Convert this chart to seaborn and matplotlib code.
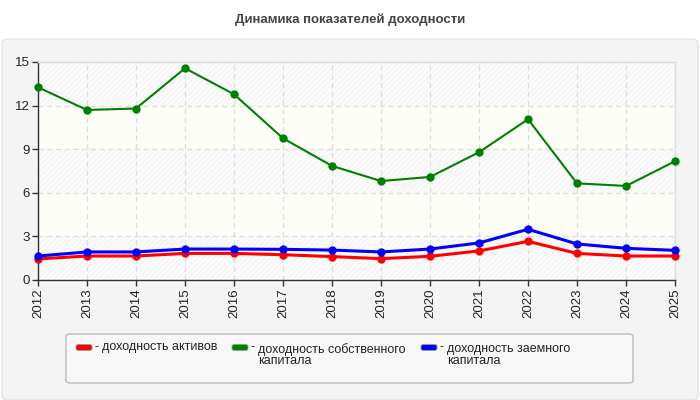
import matplotlib
matplotlib.use("Agg")
import matplotlib.pyplot as plt
from matplotlib.patches import FancyBboxPatch
import seaborn as sns
import pandas as pd

years = [2012, 2013, 2014, 2015, 2016, 2017, 2018, 2019, 2020, 2021, 2022, 2023, 2024, 2025]
roa = [1.45, 1.65, 1.65, 1.83, 1.83, 1.74, 1.61, 1.47, 1.63, 2.00, 2.66, 1.83, 1.65, 1.65]
roe = [13.26, 11.70, 11.80, 14.57, 12.78, 9.75, 7.85, 6.81, 7.09, 8.79, 11.06, 6.65, 6.47, 8.17]
rod = [1.65, 1.93, 1.93, 2.13, 2.13, 2.11, 2.06, 1.93, 2.13, 2.55, 3.49, 2.48, 2.18, 2.04]
series_names = ["доходность активов", "доходность собственного\nкапитала", "доходность заемного\nкапитала"]
colors = ["#ff0000", "#008000", "#0000ff"]
title = "Динамика показателей доходности"
yticks = [0, 3, 6, 9, 12, 15]

sns.set_theme(style="white")
plt.rcParams['font.family'] = ['Liberation Sans', 'DejaVu Sans']
plt.rcParams['hatch.linewidth'] = 0.5

rows = []
for name, vals in zip(series_names, [roa, roe, rod]):
    for y, v in zip(years, vals):
        rows.append({"year": y, "value": v, "series": name})
df = pd.DataFrame(rows)

fig = plt.figure(figsize=(7, 4), dpi=100)
fig.patch.set_facecolor("white")
W, H = 700, 400

# gray panel
panel = FancyBboxPatch((2 / W, 0.0), 696 / W, 361 / H, boxstyle="round,pad=0,rounding_size=0.01",
                       transform=fig.transFigure, facecolor="#f4f4f4", edgecolor="#e4e4e4", lw=1, zorder=-10)
fig.patches.append(panel)
fig.text(0.5, 1 - 20 / H, title, ha="center", va="center", fontsize=9.5, fontweight="bold", color="#444444")

ax = fig.add_axes([38 / W, 1 - 280 / H, 637 / W, 218 / H])
ax.set_zorder(5)
ax.set_facecolor("#fdfdf7")
for lo in (0, 6, 12):
    ax.axhspan(lo, lo + 3, facecolor="#fbfbfb", edgecolor="#efefef", hatch="//////", lw=0, zorder=0)

for i, name in enumerate(series_names):
    sub = df[df["series"] == name]
    sns.lineplot(data=sub, x="year", y="value", color=colors[i], marker="o", markersize=6,
                 markeredgewidth=0, lw=1.5 if i == 1 else 2.2, ax=ax, legend=False, zorder=3)
for ln in ax.lines:
    ln.set_clip_on(False)

ax.set_xlim(years[0], years[-1])
ax.set_ylim(0, 15)
ax.set_yticks(yticks)
ax.set_xticks(years)
ax.set_xticklabels([str(y) for y in years], rotation=90)
ax.tick_params(axis="x", length=4, width=1, color="#333333", labelsize=9.5, labelcolor="#222222", pad=2, bottom=True)
ax.tick_params(axis="y", length=4, width=1, color="#333333", labelsize=9.5, labelcolor="#222222", pad=2, left=True)
ax.set_xlabel("")
ax.set_ylabel("")
ax.grid(True, color="#dddddd", linestyle=(0, (4, 3)), lw=0.9, zorder=1)
ax.set_axisbelow(True)
for s in ("left", "bottom"):
    ax.spines[s].set_color("#333333")
    ax.spines[s].set_linewidth(1)
for s in ("top", "right"):
    ax.spines[s].set_color("#dddddd")
    ax.spines[s].set_linewidth(1)

# legend box
lb = FancyBboxPatch((66 / W, 1 - 383 / H), 567 / W, 49 / H, boxstyle="round,pad=0,rounding_size=0.006",
                    transform=fig.transFigure, facecolor="#f8f8f8", edgecolor="#bbbbbb", lw=1, zorder=1)
fig.patches.append(lb)
item_x = [76, 232, 421]
for x0, name, c in zip(item_x, series_names, colors):
    sw = FancyBboxPatch((x0 / W, 1 - 350.5 / H), 16 / W, 6 / H, boxstyle="round,pad=0,rounding_size=0.004",
                        transform=fig.transFigure, facecolor=c, edgecolor="#999999", lw=0.6, zorder=2)
    fig.patches.append(sw)
    fig.text((x0 + 19) / W, 1 - 341 / H, "- ", ha="left", va="top", fontsize=9, color="#222222", zorder=3)
    fig.text((x0 + 26) / W, 1 - 341 / H if x0 == 76 else 1 - 343 / H, name, ha="left", va="top",
             fontsize=9, color="#222222", linespacing=0.95, zorder=3)

fig.savefig("out.png", dpi=100)
